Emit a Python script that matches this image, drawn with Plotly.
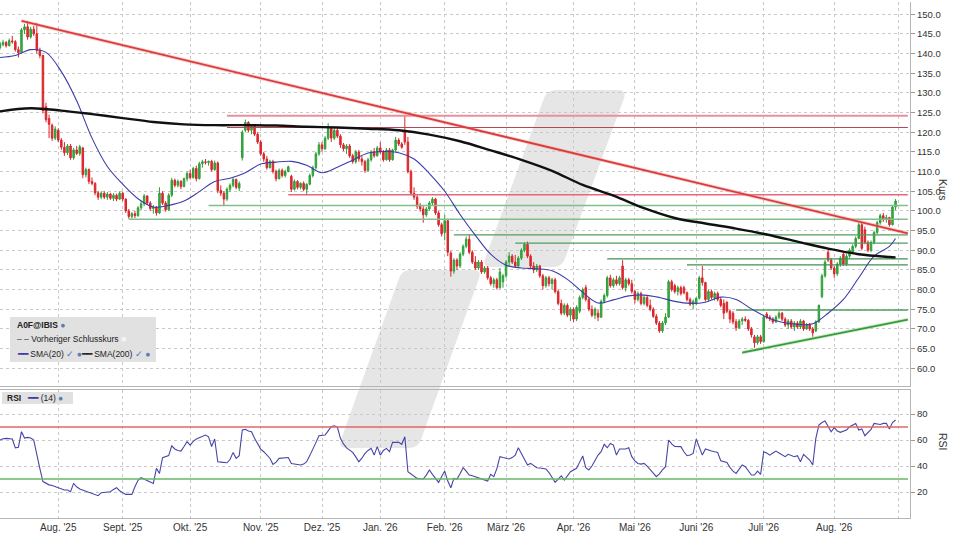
import pandas as pd
import plotly.graph_objects as go
from plotly.subplots import make_subplots

# Handelstage (Xetra) vom 07.07.2025 bis 31.08.2026
holidays = ["2025-12-24", "2025-12-25", "2025-12-26", "2025-12-31", "2026-01-01",
            "2026-04-03", "2026-04-06", "2026-05-01"]
days = pd.bdate_range("2025-07-07", "2026-08-31")
days = days[~days.isin(pd.to_datetime(holidays))]
dates = [d.strftime("%Y-%m-%d") for d in days]

opens = [
    141.5, 142.3, 142.8, 142.0, 143.2, 143.0, 141.0, 140.3, 146.0, 146.8,
    144.2, 146.2, 145.0, 140.8, 139.5, 126.5, 123.5, 121.8, 118.5, 120.5,
    118.0, 116.2, 114.8, 116.5, 113.5, 115.5, 114.6, 116.0, 109.2, 110.5,
    107.5, 107.0, 104.6, 103.5, 104.5, 103.5, 104.3, 103.2, 104.0, 103.0,
    104.5, 103.0, 100.0, 98.6, 99.3, 98.8, 100.8, 101.8, 103.8, 102.0,
    100.6, 101.0, 99.5, 104.5, 102.0, 100.3, 104.0, 107.8, 106.5, 107.5,
    106.2, 108.2, 109.5, 108.5, 110.8, 108.2, 112.0, 112.5, 112.3, 112.6,
    110.5, 112.2, 105.2, 104.5, 103.0, 105.5, 106.5, 108.0, 105.8, 113.5,
    120.5, 122.5, 120.5, 121.5, 119.5, 117.5, 114.5, 113.2, 111.0, 112.5,
    110.0, 108.2, 110.3, 109.0, 110.0, 108.8, 105.5, 107.5, 106.0, 107.0,
    105.5, 106.8, 109.0, 111.0, 114.5, 116.8, 115.8, 118.5, 121.0, 118.5,
    120.5, 119.0, 116.8, 115.8, 116.5, 114.0, 112.5, 115.0, 113.2, 112.5,
    110.3, 113.0, 115.0, 114.0, 116.0, 115.0, 113.0, 115.5, 113.0, 115.5,
    118.0, 117.0, 120.5, 117.5, 110.0, 104.5, 103.5, 101.2, 100.5, 99.0,
    100.5, 102.0, 103.0, 99.5, 96.5, 94.5, 97.5, 89.3, 84.7, 87.5,
    86.0, 89.0, 91.0, 92.8, 89.5, 87.0, 85.5, 87.0, 84.5, 85.5,
    83.0, 81.5, 82.5, 80.5, 82.0, 83.5, 87.0, 88.5, 87.0, 86.0,
    88.0, 90.0, 91.5, 88.5, 86.0, 85.0, 86.0, 83.5, 81.0, 83.0,
    81.5, 82.5, 79.5, 76.5, 74.0, 76.0, 73.5, 75.0, 72.5, 74.5,
    78.0, 80.5, 77.5, 75.0, 73.5, 74.0, 73.0, 77.0, 78.5, 83.0,
    81.0, 82.5, 81.5, 86.0, 80.5, 82.5, 81.5, 79.5, 77.5, 79.0,
    76.5, 78.0, 76.0, 75.0, 73.2, 71.5, 69.5, 71.5, 73.0, 82.0,
    81.0, 79.5, 80.5, 80.5, 79.2, 77.5, 76.3, 76.5, 77.8, 83.0,
    81.8, 77.5, 79.5, 78.0, 79.0, 77.5, 76.5, 76.8, 74.5, 74.0,
    71.8, 70.3, 72.0, 72.5, 72.2, 70.0, 68.0, 66.5, 68.0, 66.8,
    73.8, 73.0, 72.5, 71.8, 73.0, 74.0, 72.5, 71.0, 72.0, 70.5,
    71.5, 70.5, 72.0, 70.0, 71.0, 70.0, 69.5, 71.8, 78.2, 83.5,
    89.5, 87.5, 85.5, 84.0, 86.5, 89.0, 86.5, 88.5, 89.5, 91.0,
    93.0, 96.5, 95.2, 92.0, 90.0, 92.0, 94.5, 97.0, 98.8, 97.8,
    98.3, 96.5, 101.0,
]
highs = [
    143.0, 143.5, 143.2, 143.8, 144.5, 143.4, 141.8, 146.5, 147.5, 148.2,
    146.8, 147.0, 147.8, 141.5, 139.7, 127.5, 124.5, 122.2, 121.5, 121.0,
    118.5, 117.5, 117.0, 117.0, 116.0, 116.5, 116.8, 116.3, 111.0, 110.8,
    108.5, 107.3, 105.0, 105.0, 105.0, 104.8, 104.6, 104.5, 104.4, 105.0,
    104.8, 103.2, 100.5, 99.7, 100.0, 101.2, 102.5, 104.3, 104.0, 102.5,
    101.5, 101.2, 106.0, 105.0, 102.5, 104.5, 108.4, 108.2, 108.0, 107.8,
    108.5, 110.0, 110.5, 111.2, 111.5, 112.5, 113.0, 113.2, 112.8, 113.0,
    112.8, 112.6, 106.5, 105.0, 106.0, 107.0, 108.5, 108.2, 107.5, 120.5,
    123.2, 122.8, 122.0, 121.8, 120.0, 118.0, 115.0, 114.0, 113.0, 113.0,
    110.5, 110.8, 110.8, 110.5, 111.5, 109.2, 108.0, 107.8, 107.3, 107.5,
    107.0, 109.5, 111.5, 115.0, 117.5, 117.5, 119.0, 122.3, 121.5, 121.0,
    121.0, 119.5, 117.3, 117.0, 117.0, 114.5, 115.5, 115.5, 114.0, 113.0,
    113.5, 115.5, 116.0, 116.5, 117.5, 115.5, 116.0, 116.0, 115.8, 118.8,
    118.5, 117.5, 124.2, 118.8, 110.5, 106.0, 104.0, 102.0, 101.2, 101.0,
    102.5, 103.5, 103.3, 100.0, 97.0, 99.0, 98.0, 89.8, 88.0, 88.0,
    89.5, 91.5, 93.5, 94.0, 90.0, 88.5, 87.5, 87.5, 86.0, 86.0,
    83.5, 83.0, 83.0, 85.5, 84.0, 87.5, 89.5, 89.0, 88.8, 88.5,
    90.5, 92.0, 92.2, 89.0, 87.0, 86.5, 86.3, 84.0, 83.5, 83.5,
    83.0, 83.0, 80.0, 77.5, 76.5, 76.5, 75.5, 75.5, 76.0, 78.5,
    80.5, 81.2, 78.0, 76.0, 75.5, 75.0, 77.5, 79.0, 83.5, 83.8,
    83.0, 83.5, 83.5, 87.5, 83.0, 83.0, 82.5, 80.0, 79.5, 79.5,
    78.5, 78.5, 77.5, 75.5, 73.8, 72.0, 72.0, 74.0, 82.5, 82.5,
    81.5, 81.0, 81.0, 81.0, 79.5, 78.0, 77.5, 78.0, 83.5, 86.0,
    82.0, 80.0, 80.0, 79.5, 79.5, 78.0, 77.5, 77.0, 75.0, 74.5,
    72.5, 72.5, 73.0, 73.2, 72.5, 70.5, 68.5, 68.5, 68.5, 73.5,
    74.3, 73.5, 73.0, 73.5, 74.5, 74.3, 73.0, 72.5, 72.5, 72.0,
    72.0, 72.5, 72.3, 71.5, 71.5, 70.5, 72.2, 76.2, 84.0, 87.5,
    90.5, 88.0, 86.0, 87.0, 88.5, 89.5, 89.0, 90.5, 91.5, 93.5,
    97.0, 97.0, 96.0, 92.5, 92.5, 95.0, 97.5, 99.3, 99.5, 99.0,
    98.5, 101.5, 103.0,
]
lows = [
    141.0, 141.8, 141.5, 141.8, 142.5, 140.5, 139.0, 140.0, 145.0, 143.5,
    143.8, 144.5, 140.0, 138.8, 124.8, 122.5, 118.5, 117.8, 118.0, 117.5,
    115.5, 114.0, 114.2, 113.0, 113.0, 114.2, 114.0, 108.3, 108.5, 106.8,
    106.5, 104.0, 102.8, 103.0, 103.0, 102.8, 102.8, 102.5, 102.5, 102.8,
    102.5, 99.5, 98.0, 98.0, 98.2, 98.5, 100.2, 101.2, 101.5, 100.0,
    99.3, 98.8, 99.2, 101.5, 99.8, 100.0, 103.5, 106.0, 106.0, 105.5,
    106.0, 107.5, 108.0, 108.2, 107.5, 108.0, 111.0, 111.8, 111.5, 110.0,
    110.2, 104.5, 103.8, 101.5, 102.5, 104.8, 106.0, 105.5, 105.0, 112.8,
    120.0, 120.0, 119.5, 119.0, 117.0, 114.0, 112.5, 110.5, 110.8, 109.5,
    107.5, 108.0, 108.5, 108.5, 109.8, 104.8, 105.2, 105.5, 105.5, 105.0,
    104.0, 106.5, 108.5, 110.5, 114.0, 115.0, 115.5, 118.0, 117.5, 118.0,
    118.5, 116.0, 115.2, 114.5, 113.5, 112.0, 112.0, 112.5, 111.5, 109.7,
    110.0, 112.5, 113.5, 113.8, 114.5, 112.5, 112.8, 112.5, 112.8, 115.0,
    116.5, 115.8, 116.8, 109.5, 104.0, 102.8, 100.5, 99.8, 97.0, 98.5,
    100.0, 101.5, 99.0, 96.0, 93.5, 92.5, 88.5, 83.3, 84.0, 85.0,
    85.5, 88.5, 90.5, 89.0, 86.5, 85.0, 85.0, 84.0, 84.0, 82.5,
    81.0, 80.5, 80.0, 80.2, 80.5, 83.0, 86.0, 86.5, 85.5, 85.8,
    87.5, 89.5, 88.0, 85.5, 84.2, 84.5, 83.0, 80.0, 80.5, 80.8,
    80.0, 79.0, 76.0, 73.5, 73.5, 73.0, 72.0, 71.8, 72.0, 74.0,
    77.5, 77.0, 74.5, 73.0, 72.5, 72.0, 72.8, 76.5, 78.0, 80.5,
    80.5, 81.0, 81.0, 80.0, 79.5, 81.0, 79.0, 76.5, 77.0, 76.0,
    76.0, 75.5, 74.5, 72.8, 71.0, 69.0, 69.0, 71.0, 72.8, 79.5,
    79.0, 78.5, 78.5, 78.8, 77.0, 75.8, 75.0, 76.0, 77.5, 81.0,
    77.0, 77.0, 77.5, 77.2, 77.0, 75.5, 72.5, 74.0, 71.5, 71.2,
    69.5, 70.0, 71.0, 71.8, 69.5, 67.8, 65.2, 66.0, 66.2, 66.5,
    72.5, 72.0, 71.3, 71.5, 72.5, 72.0, 70.5, 70.0, 70.0, 69.5,
    70.0, 70.0, 69.5, 69.8, 69.5, 68.0, 69.2, 71.5, 77.8, 83.0,
    87.0, 85.0, 83.0, 83.5, 85.8, 86.0, 86.0, 88.0, 89.0, 90.5,
    92.8, 90.0, 91.5, 89.5, 89.5, 91.5, 94.0, 96.5, 97.2, 97.0,
    96.0, 96.3, 100.2,
]
closes = [
    142.5, 142.8, 142.0, 143.3, 143.0, 141.0, 140.2, 146.0, 146.8, 144.2,
    146.2, 145.0, 140.8, 139.5, 125.5, 123.2, 122.0, 118.5, 120.8, 118.0,
    116.2, 114.8, 116.5, 113.5, 115.5, 114.6, 116.3, 109.2, 110.5, 107.5,
    107.0, 104.6, 103.5, 104.5, 103.5, 104.3, 103.2, 104.0, 103.0, 104.5,
    103.0, 100.0, 98.6, 99.3, 98.8, 100.8, 101.8, 103.8, 102.0, 100.6,
    101.0, 99.5, 104.5, 102.0, 100.3, 104.0, 107.8, 106.5, 107.5, 106.2,
    108.2, 109.5, 108.5, 110.8, 108.2, 112.0, 112.5, 112.3, 112.6, 110.5,
    112.2, 105.2, 104.5, 103.0, 105.5, 106.5, 108.0, 106.0, 107.0, 120.0,
    122.5, 120.5, 121.5, 119.5, 117.5, 114.5, 113.2, 111.0, 112.5, 110.0,
    108.2, 110.3, 109.0, 110.0, 111.2, 105.5, 107.5, 106.0, 107.0, 105.5,
    106.8, 109.0, 111.0, 114.5, 116.8, 115.8, 118.5, 121.0, 118.5, 120.5,
    119.0, 116.8, 115.8, 116.5, 114.0, 112.5, 115.0, 113.2, 112.5, 110.3,
    113.0, 115.0, 114.0, 116.0, 115.0, 113.0, 115.5, 113.0, 115.5, 118.0,
    117.0, 116.2, 117.5, 110.0, 104.5, 103.5, 101.2, 100.5, 99.0, 100.5,
    102.0, 103.0, 99.5, 96.5, 94.2, 97.5, 89.5, 84.7, 87.5, 86.0,
    89.0, 91.0, 92.8, 89.5, 87.0, 85.5, 87.0, 84.5, 85.5, 83.0,
    81.5, 82.5, 80.5, 84.5, 83.5, 87.0, 88.5, 87.0, 86.0, 88.0,
    90.0, 91.5, 88.5, 86.0, 85.0, 86.0, 83.5, 81.0, 83.0, 81.5,
    82.5, 79.5, 76.5, 74.0, 76.0, 73.5, 75.0, 72.5, 75.5, 78.0,
    80.0, 77.5, 75.0, 73.5, 75.0, 73.0, 77.0, 78.5, 83.0, 81.0,
    82.5, 81.5, 83.0, 80.5, 82.5, 81.5, 79.5, 77.5, 79.0, 76.5,
    78.0, 76.0, 75.0, 73.2, 71.5, 69.5, 71.5, 73.0, 82.0, 80.0,
    79.5, 80.5, 79.0, 79.2, 77.5, 76.3, 77.0, 77.8, 83.0, 81.8,
    77.5, 79.5, 78.0, 79.0, 77.5, 76.0, 74.0, 74.5, 72.5, 71.8,
    70.3, 72.0, 72.5, 72.2, 70.0, 68.5, 66.5, 68.0, 66.8, 73.0,
    73.0, 72.5, 71.8, 73.0, 74.0, 72.5, 71.0, 72.0, 70.5, 71.5,
    70.5, 72.0, 70.0, 71.0, 70.0, 69.0, 71.8, 76.0, 83.5, 87.0,
    87.5, 85.5, 84.0, 86.5, 88.0, 86.5, 88.5, 90.0, 91.0, 93.0,
    96.5, 90.5, 92.0, 90.0, 92.0, 94.5, 97.0, 98.8, 97.8, 98.3,
    96.5, 101.0, 102.5,
]

sma20 = [
    139.0, 139.5, 141.0, 140.3, 135.4, 128.0, 118.5, 111.3, 106.8, 103.1,
    101.0, 101.4, 102.5, 104.9, 107.5, 108.3, 109.7, 111.9, 112.4, 112.6,
    111.6, 109.7, 111.1, 112.9, 114.7, 115.1, 114.8, 113.2, 109.5, 105.0,
    99.1, 93.8, 89.0, 86.2, 85.5, 85.3, 84.8, 82.6, 79.3, 76.6,
    77.4, 78.4, 78.6, 78.0, 77.0, 76.5, 76.8, 78.1, 77.5, 75.1,
    73.0, 71.7, 71.2, 71.3, 74.0, 77.5, 83.0, 88.5, 91.0,
]
sma20_last = 93.0
sma200 = [
    125.3, 126.1, 125.5, 124.6, 123.6, 122.6, 122.0, 121.8, 121.8, 121.7,
    121.4, 121.2, 120.9, 120.5, 119.4, 117.7, 115.4, 113.0, 110.2, 106.6,
    103.9, 100.7, 98.2, 96.8, 95.5, 94.0, 92.2, 90.4, 89.0, 88.3,
]
sma200_last = 88.2

# RSI(14), je Handelstag
rsi = [
    60, 61, 61.3, 61, 60.8, 54, 54.5, 66.4, 61.5, 62,
    61.5, 60, 48, 38, 28, 26.5, 25.5, 25, 24, 23,
    22.5, 21.5, 21.5, 20.2, 26.6, 24, 22.3, 21.5, 20.8, 20,
    19, 18.5, 17.2, 19.5, 19.7, 19.8, 20.2, 22, 23.3, 21,
    19.5, 18.2, 18.2, 18.2, 24, 29, 31, 30, 28.4, 27.5,
    26.6, 38.2, 34.3, 46.4, 47, 48, 55.6, 53.1, 52, 51.5,
    55, 58.7, 56.1, 59, 60.8, 61.8, 63, 63.8, 62.5, 55,
    60.8, 43.3, 43, 42.8, 42.5, 45, 50.5, 45.9, 48, 67.7,
    68.2, 67, 66.4, 61.3, 57, 53, 51, 48.4, 46, 41.3,
    43, 45.9, 46, 46.4, 46.5, 42, 41.5, 41, 40.8, 41.5,
    43.3, 48, 53.6, 58, 63.3, 63.5, 63.8, 67, 70.2, 71,
    70, 61.3, 57, 54, 52.3, 50.5, 47, 43.3, 46, 49.7,
    52, 53.6, 48.4, 54.9, 48.4, 52, 53.6, 51, 58.2, 58.2,
    58.2, 56.7, 62.5, 35.6, 33.8, 32, 30.5, 30.2, 30, 33,
    36.9, 33.6, 30, 27.4, 32, 36.1, 28.4, 23.3, 30.5, 30,
    34, 38.7, 36, 33.1, 32.5, 31.8, 31, 30, 29.2, 28.4,
    33.6, 31.8, 38, 47.2, 46.5, 46, 45.4, 46.5, 48.4, 54.1,
    50, 46, 40.8, 42, 40, 38.7, 38.5, 38, 37.7, 35,
    31, 27.4, 30, 32.5, 29.2, 32, 35.6, 37, 38.2, 43,
    47.7, 38.7, 36.9, 40, 44, 48.4, 51, 56.7, 54.1, 57.4,
    56.1, 48.4, 53.1, 53.1, 53.1, 54.1, 47.2, 44, 42, 41.5,
    42, 40, 36.9, 34.5, 31.8, 34, 37, 39.5, 60, 57,
    55, 54.9, 54.9, 51, 47.9, 48.5, 49.7, 60.8, 55, 48.4,
    53.1, 52, 51.5, 51, 50.5, 44.1, 43.5, 42.8, 39, 36,
    34.3, 38, 40.8, 39.5, 36, 33.1, 33.1, 36.1, 33.6, 51,
    50, 48.4, 50, 51.5, 50, 48.4, 47.2, 49, 48, 47.2,
    47.9, 43.3, 49, 47, 44.6, 40.8, 61.3, 71.5, 73.5, 74.6,
    70, 66.4, 69.5, 67, 65.9, 67, 67.7, 70.2, 71.5, 72.8,
    67.7, 68.5, 63.3, 66, 68.2, 72.8, 72.5, 72, 72.8, 72.8,
    68.5, 73.5, 75.4,
]
assert len(dates) == len(opens) == len(highs) == len(lows) == len(closes) == len(rsi)

# Unterstuetzungen / Widerstaende: (Niveau, Startdatum, Farbe, Breite)
line_end = "2026-09-04"
levels = [
    (124.2, "2025-10-17", "#ec8f9c", 2.0),
    (121.2, "2025-10-17", "#b3485a", 1.0),
    (104.1, "2025-11-14", "#e5697a", 1.5),
    (101.4, "2025-10-09", "#7fbf8c", 1.5),
    (97.9, "2025-09-03", "#7fbf8c", 1.5),
    (93.9, "2026-02-05", "#4f9e5f", 1.2),
    (91.8, "2026-03-05", "#4f9e5f", 1.2),
    (87.8, "2026-04-20", "#3f8f50", 1.2),
    (86.3, "2026-05-27", "#3f8f50", 1.2),
    (74.8, "2026-06-18", "#4f9e5f", 1.5),
]
# Trendlinien
trend_down = (["2025-07-16", line_end], [148.3, 94.3])
trend_up = (["2026-06-22", line_end], [64.0, 72.4])

month_ticks = ["2025-08-01", "2025-09-01", "2025-10-01", "2025-11-03", "2025-12-01",
               "2026-01-02", "2026-02-02", "2026-03-02", "2026-04-01", "2026-05-04",
               "2026-06-01", "2026-07-01", "2026-08-03", "2026-09-01"]
month_labels = ["Aug. '25", "Sept. '25", "Okt. '25", "Nov. '25", "Dez. '25",
                "Jan. '26", "Feb. '26", "März '26", "Apr. '26", "Mai '26",
                "Juni '26", "Juli '26", "Aug. '26", ""]

W, H = 960, 540
ML, MR, MT, MB = 0, 50, 2, 22
PW, PH = W - ML - MR, H - MT - MB

fig = make_subplots(rows=2, cols=1, shared_xaxes=True,
                    vertical_spacing=4 / PH, row_heights=[384, 128])

for lvl, start, col, wd in levels:
    fig.add_trace(go.Scatter(x=[start, line_end], y=[lvl, lvl], mode="lines",
                             line=dict(color=col, width=wd), hoverinfo="skip"),
                  row=1, col=1)

fig.add_trace(go.Candlestick(
    x=dates, open=opens, high=highs, low=lows, close=closes,
    increasing=dict(line=dict(color="#2f9e3a", width=1), fillcolor="#38b044"),
    decreasing=dict(line=dict(color="#d9262c", width=1), fillcolor="#e12b2f"),
    whiskerwidth=0, hoverinfo="skip"), row=1, col=1)

fig.add_trace(go.Scatter(x=dates[::5] + [dates[-1]], y=sma20 + [sma20_last], mode="lines",
                         line=dict(color="#3d3da8", width=1.1, shape="spline"), hoverinfo="skip"),
              row=1, col=1)
fig.add_trace(go.Scatter(x=dates[::10] + [dates[-1]], y=sma200 + [sma200_last], mode="lines",
                         line=dict(color="#111111", width=2.4, shape="spline"), hoverinfo="skip"),
              row=1, col=1)

for (tx, ty), core, glow in [(trend_down, "#dd3a3a", "rgba(240,150,150,0.45)"),
                             (trend_up, "#3a9a3a", "rgba(150,215,150,0.45)")]:
    fig.add_trace(go.Scatter(x=tx, y=ty, mode="lines", line=dict(color=glow, width=3.6),
                             hoverinfo="skip"), row=1, col=1)
    fig.add_trace(go.Scatter(x=tx, y=ty, mode="lines", line=dict(color=core, width=1.8),
                             hoverinfo="skip"), row=1, col=1)

fig.add_trace(go.Scatter(x=dates, y=rsi, mode="lines",
                         line=dict(color="#4646a6", width=1.1), hoverinfo="skip"),
              row=2, col=1)


def paper(px, py):
    return (px - ML) / PW, 1 - (py - MT) / PH


def rounded_path(pts, r):
    # Polygon (Pixelkoordinaten) mit abgerundeten Ecken als SVG-Pfad in Paper-Koordinaten
    out = ""
    n = len(pts)
    for k in range(n):
        x0, y0 = pts[k - 1]
        x1, y1 = pts[k]
        x2, y2 = pts[(k + 1) % n]
        d0 = ((x0 - x1) ** 2 + (y0 - y1) ** 2) ** 0.5
        d2 = ((x2 - x1) ** 2 + (y2 - y1) ** 2) ** 0.5
        a = paper(x1 + (x0 - x1) * r / d0, y1 + (y0 - y1) * r / d0)
        b = paper(x1 + (x2 - x1) * r / d2, y1 + (y2 - y1) * r / d2)
        c = paper(x1, y1)
        out += ("M" if k == 0 else "L") + f"{a[0]:.5f},{a[1]:.5f} "
        out += f"Q{c[0]:.5f},{c[1]:.5f} {b[0]:.5f},{b[1]:.5f} "
    return out + "Z"


shapes = []
# Wasserzeichen
for poly in ([(547, 90), (627, 90), (562, 267), (482, 267)],
             [(402, 270), (482, 270), (418, 448), (338, 448)]):
    shapes.append(dict(type="path", path=rounded_path(poly, 9), xref="paper", yref="paper",
                       fillcolor="#e6e6e6", line=dict(width=0), layer="below"))

# RSI 70 / 30
for lvl, col in [(70, "#e06666"), (30, "#66b866")]:
    shapes.append(dict(type="line", xref="paper", yref="y2", x0=0, x1=908 / PW, y0=lvl, y1=lvl,
                       line=dict(color=col, width=1.5)))

# Legendenkaesten
for x0, y0, x1, y1 in [(10, 317, 156, 362), (2, 392, 73, 404)]:
    p0, p1 = paper(x0, y1), paper(x1, y0)
    shapes.append(dict(type="rect", xref="paper", yref="paper", x0=p0[0], y0=p0[1],
                       x1=p1[0], y1=p1[1], fillcolor="#e1e1e1", line=dict(width=0)))

globe = "<span style='color:#5b7fb5'>●</span>"
check = "<span style='color:#3b79c9'>✓</span>"
legend_rows = [
    (15, 325, f"<b>A0F@IBIS</b> {globe}"),
    (15, 339, "<span style='color:#444'>‒ ‒</span> Vorheriger Schlusskurs "
              "<span style='color:#f4f4f4'>■</span>"),
    (15, 354, f"<span style='color:#2b2b9c'>━━</span> SMA(20) {check} {globe}"
              f"<span style='color:#111'>━━</span> SMA(200) {check} {globe}"),
    (5, 398, f"<b>RSI</b>   <span style='color:#2b2b9c'>━━</span> (14) {globe}"),
]
annotations = []
for ax, ay, txt in legend_rows:
    px, py = paper(ax, ay)
    annotations.append(dict(x=px, y=py, xref="paper", yref="paper", text=txt, showarrow=False,
                            xanchor="left", yanchor="middle",
                            font=dict(size=8.5, color="#222", family="Liberation Sans, Arial")))
for ttl, ty in [("Kurs", 190), ("RSI", 453)]:
    px, py = paper(951, ty)
    annotations.append(dict(x=px, y=py, xref="paper", yref="paper", text=ttl, showarrow=False,
                            textangle=90, font=dict(size=10.5, color="#333")))

fig.update_xaxes(
    type="date", range=["2025-07-07", "2026-09-04 17:00"],
    rangebreaks=[dict(bounds=["sat", "mon"]), dict(values=holidays)],
    tickvals=month_ticks, ticktext=month_labels,
    showgrid=True, gridcolor="#c9c9c9", griddash="dot", gridwidth=1,
    showline=True, linecolor="#b5b5b5", linewidth=1,
    rangeslider_visible=False, ticks="", zeroline=False,
)
fig.update_xaxes(showticklabels=False, row=1, col=1)
fig.update_xaxes(mirror=True, tickfont=dict(size=10, color="#333"), row=2, col=1)

fig.update_yaxes(side="right", showgrid=True, gridcolor="#c9c9c9", griddash="dot",
                 showline=True, linecolor="#b5b5b5", ticks="outside", ticklen=4,
                 tickcolor="#999", zeroline=False, tickfont=dict(size=9.5, color="#333"))
fig.update_yaxes(range=[55.5, 153.1], dtick=5, tick0=0, tickformat=".1f", row=1, col=1)
fig.update_yaxes(range=[0, 98.5], tickvals=[20, 40, 60, 80], row=2, col=1)

fig.update_layout(
    width=W, height=H, margin=dict(l=ML, r=MR, t=MT, b=MB),
    paper_bgcolor="white", plot_bgcolor="rgba(0,0,0,0)",
    showlegend=False, shapes=shapes, annotations=annotations,
    font=dict(family="Liberation Sans, Arial, sans-serif", color="#333"),
)

# Seitenrand entfernen, damit die Grafik bei (0,0) beginnt; keine Werkzeugleiste
fig.write_html("out.html", config={"displayModeBar": False},
               post_script="document.body.style.margin='0px';")
